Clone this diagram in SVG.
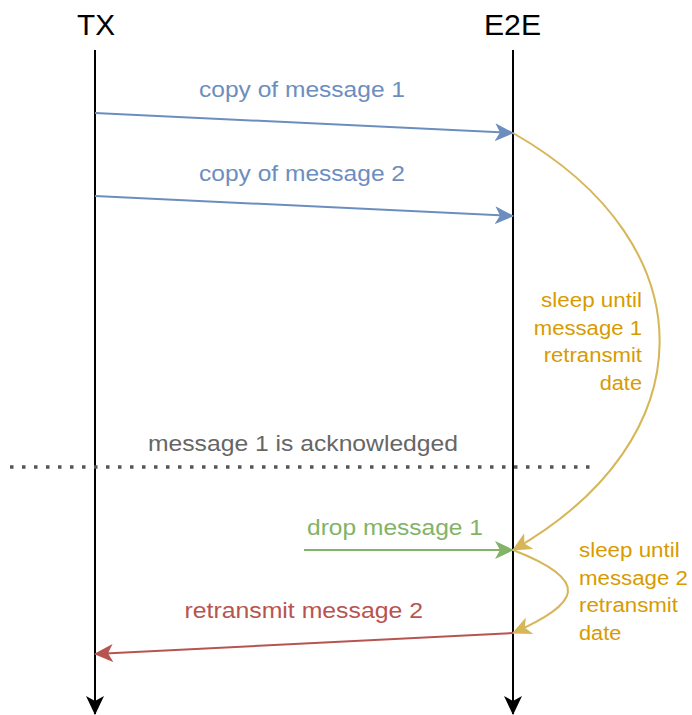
<svg xmlns="http://www.w3.org/2000/svg" width="692" height="715" viewBox="0 0 692 715">
<style>
text{font-family:"Liberation Sans",Arial,sans-serif;}
.life{stroke:#000;stroke-width:2;fill:none;}
.blue{stroke:#6c8ebf;stroke-width:2;fill:none;}
.green{stroke:#82b366;stroke-width:2;fill:none;}
.red{stroke:#b85450;stroke-width:2;fill:none;}
.gold{stroke:#d6b656;stroke-width:2;fill:none;}
.t-head{font-size:29px;fill:#000;}
.t-lbl{font-size:22.5px;}
.t-sleep{font-size:20px;fill:#d79b00;}
</style>
<defs>
<marker id="aBlack" markerUnits="userSpaceOnUse" viewBox="0 -10 19 20" markerWidth="19" markerHeight="20" refX="18" refY="0" orient="auto"><path d="M0,-9 L19,0 L0,9 L5,0 Z" fill="#000"/></marker>
<marker id="aBlue" markerUnits="userSpaceOnUse" viewBox="0 -10 19 20" markerWidth="19" markerHeight="20" refX="18" refY="0" orient="auto"><path d="M0,-9 L19,0 L0,9 L5,0 Z" fill="#6c8ebf"/></marker>
<marker id="aGreen" markerUnits="userSpaceOnUse" viewBox="0 -10 19 20" markerWidth="19" markerHeight="20" refX="18" refY="0" orient="auto"><path d="M0,-9 L19,0 L0,9 L5,0 Z" fill="#82b366"/></marker>
<marker id="aRed" markerUnits="userSpaceOnUse" viewBox="0 -10 19 20" markerWidth="19" markerHeight="20" refX="18" refY="0" orient="auto"><path d="M0,-9 L19,0 L0,9 L5,0 Z" fill="#b85450"/></marker>
<marker id="aGold" markerUnits="userSpaceOnUse" viewBox="0 -10 19 20" markerWidth="19" markerHeight="20" refX="18" refY="0" orient="auto"><path d="M0,-9 L19,0 L0,9 L5,0 Z" fill="#d6b656"/></marker>
</defs>
<rect width="692" height="715" fill="#fff"/>
<g id="tx">
<text class="t-head" x="77" y="35" textLength="38" lengthAdjust="spacingAndGlyphs">TX</text>
<line class="life" x1="95" y1="50" x2="95" y2="714" marker-end="url(#aBlack)"/>
</g>
<g id="e2e">
<text class="t-head" x="484" y="35" textLength="57" lengthAdjust="spacingAndGlyphs">E2E</text>
<line class="life" x1="513" y1="50" x2="513" y2="714" marker-end="url(#aBlack)"/>
</g>
<g id="ack">
<line x1="10" y1="467" x2="596" y2="467" stroke="#555" stroke-width="3.5" stroke-dasharray="3.5 8.5"/>
<text class="t-lbl" x="148" y="451" fill="#666" textLength="310" lengthAdjust="spacingAndGlyphs">message 1 is acknowledged</text>
</g>
<g id="connectors">
<line class="blue" x1="95" y1="113" x2="513" y2="133" marker-end="url(#aBlue)"/>
<line class="blue" x1="95" y1="196" x2="513" y2="216" marker-end="url(#aBlue)"/>
<path class="gold" d="M513,133 C711,246 706,440 513,550" marker-end="url(#aGold)"/>
<line class="green" x1="304" y1="550" x2="513" y2="550" marker-end="url(#aGreen)"/>
<path class="gold" d="M513,550 C593,581 579.5,603.5 513,633" marker-end="url(#aGold)"/>
<line class="red" x1="513" y1="633" x2="95" y2="654" marker-end="url(#aRed)"/>
</g>
<g id="labels">
<text class="t-lbl" x="199" y="97" fill="#6c8ebf" textLength="206" lengthAdjust="spacingAndGlyphs">copy of message 1</text>
<text class="t-lbl" x="199" y="181" fill="#6c8ebf" textLength="206" lengthAdjust="spacingAndGlyphs">copy of message 2</text>
<text class="t-lbl" x="307" y="535" fill="#82b366" textLength="176" lengthAdjust="spacingAndGlyphs">drop message 1</text>
<text class="t-lbl" x="184.5" y="618" fill="#b85450" textLength="238.5" lengthAdjust="spacingAndGlyphs">retransmit message 2</text>
</g>
<g id="sleep1">
<text class="t-sleep" x="541" y="307" textLength="101" lengthAdjust="spacingAndGlyphs">sleep until</text>
<text class="t-sleep" x="533.7" y="335" textLength="108.3" lengthAdjust="spacingAndGlyphs">message 1</text>
<text class="t-sleep" x="543.7" y="362" textLength="98.3" lengthAdjust="spacingAndGlyphs">retransmit</text>
<text class="t-sleep" x="599.7" y="390" textLength="42.3" lengthAdjust="spacingAndGlyphs">date</text>
</g>
<g id="sleep2">
<text class="t-sleep" x="579" y="557" textLength="100.7" lengthAdjust="spacingAndGlyphs">sleep until</text>
<text class="t-sleep" x="579" y="584.5" textLength="109" lengthAdjust="spacingAndGlyphs">message 2</text>
<text class="t-sleep" x="579" y="612" textLength="99" lengthAdjust="spacingAndGlyphs">retransmit</text>
<text class="t-sleep" x="579" y="639.5" textLength="42.3" lengthAdjust="spacingAndGlyphs">date</text>
</g>
</svg>
